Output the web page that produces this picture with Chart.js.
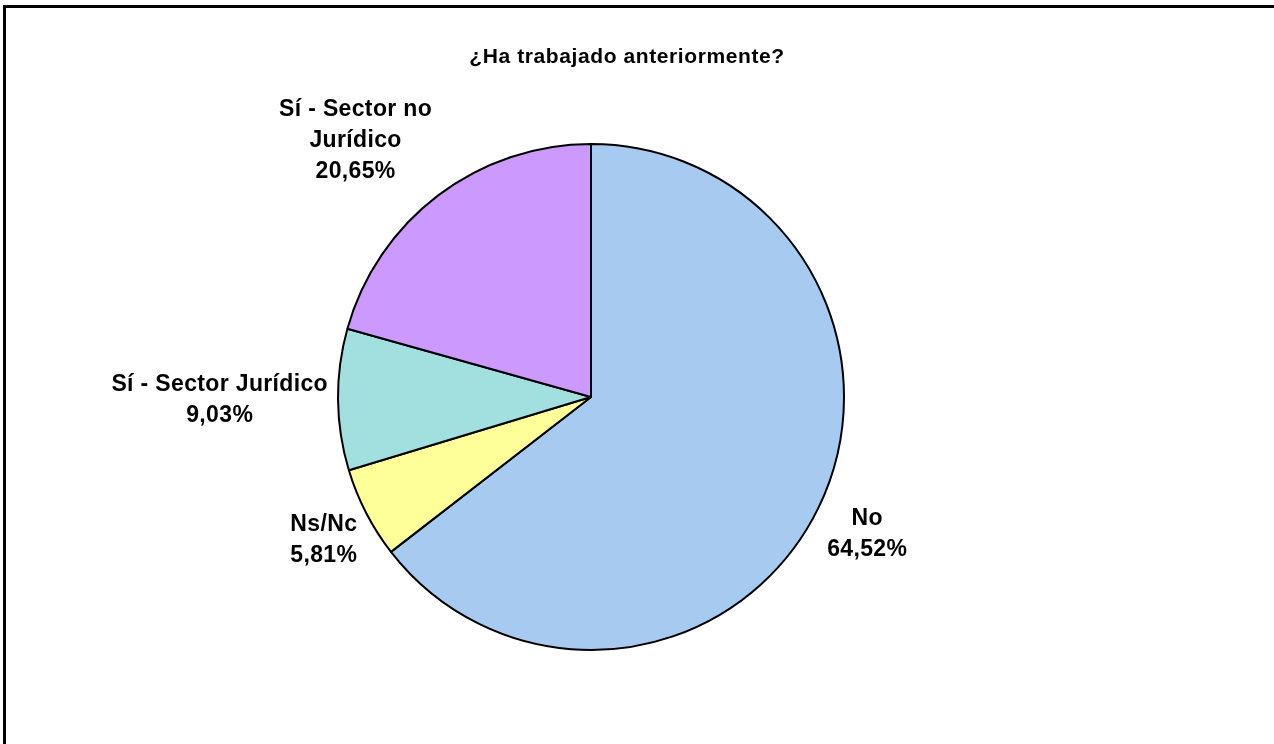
<!DOCTYPE html>
<html>
<head>
<meta charset="utf-8">
<script src="https://cdn.jsdelivr.net/npm/chart.js@4/dist/chart.umd.min.js"></script>
<style>
  html, body { margin: 0; padding: 0; background: #ffffff; }
  canvas { display: block; }
</style>
</head>
<body>
<canvas id="pieChart" width="1274" height="744"></canvas>
<script>
// Data
const chartTitle = "¿Ha trabajado anteriormente?";
const categories = ["No", "Ns/Nc", "Sí - Sector Jurídico", ["Sí - Sector no", "Jurídico"]];
const percentages = [64.52, 5.81, 9.03, 20.65];
const sliceColors = ["#a6caf0", "#ffff99", "#a2e0e0", "#cc99ff"];

const FONT = "'Liberation Sans', Arial, sans-serif";

function pctText(v) {
  return v.toFixed(2).replace(".", ",") + "%";
}

// frame + title + outside labels
const decorations = {
  id: "decorations",
  beforeDraw(chart) {
    const ctx = chart.ctx;
    ctx.save();
    ctx.fillStyle = "#000000";
    ctx.fillRect(3, 5, chart.width, 3);
    ctx.fillRect(3, 5, 3, chart.height);
    ctx.font = "bold 21px " + FONT;
    ctx.letterSpacing = "0.6px";
    ctx.textAlign = "center";
    ctx.textBaseline = "middle";
    ctx.fillText(chartTitle, 627, 57);
    ctx.restore();
  },
  afterDatasetsDraw(chart) {
    const ctx = chart.ctx;
    const meta = chart.getDatasetMeta(0);
    const lh = 31;
    const gap = 10;
    ctx.save();
    ctx.font = "bold 23px " + FONT;
    ctx.letterSpacing = "0.35px";
    ctx.fillStyle = "#000000";
    ctx.textAlign = "center";
    ctx.textBaseline = "middle";
    meta.data.forEach((arc, i) => {
      const p = arc.getProps(["x", "y", "startAngle", "endAngle", "outerRadius"], true);
      const mid = (p.startAngle + p.endAngle) / 2;
      const dx = Math.cos(mid);
      const dy = Math.sin(mid);
      const ax = p.x + dx * (p.outerRadius + gap);
      const ay = p.y + dy * (p.outerRadius + gap);
      const name = categories[i];
      const lines = (Array.isArray(name) ? name : [name]).concat([pctText(percentages[i])]);
      const w = Math.max(...lines.map((l) => ctx.measureText(l).width));
      const h = lines.length * lh;
      const cx = dx < 0 ? ax - w / 2 : ax + w / 2;
      const cy = ay + Math.max(-1, Math.min(1, dy * 1.6)) * h / 2;
      lines.forEach((l, k) => {
        ctx.fillText(l, cx, cy - h / 2 + lh / 2 + k * lh);
      });
    });
    ctx.restore();
  },
};

const ctxPie = document.getElementById("pieChart").getContext("2d");
let pieChart = new Chart(ctxPie, {
  type: "pie",
  data: {
    labels: categories,
    datasets: [
      {
        data: percentages,
        backgroundColor: sliceColors,
        borderColor: "#000000",
        borderWidth: 2,
      },
    ],
  },
  options: {
    responsive: false,
    animation: false,
    devicePixelRatio: 1,
    layout: { padding: { top: 143, bottom: 93, left: 100, right: 192 } },
    plugins: {
      legend: { display: false },
      tooltip: { enabled: false },
      title: { display: false },
    },
  },
  plugins: [decorations],
});
</script>
</body>
</html>
